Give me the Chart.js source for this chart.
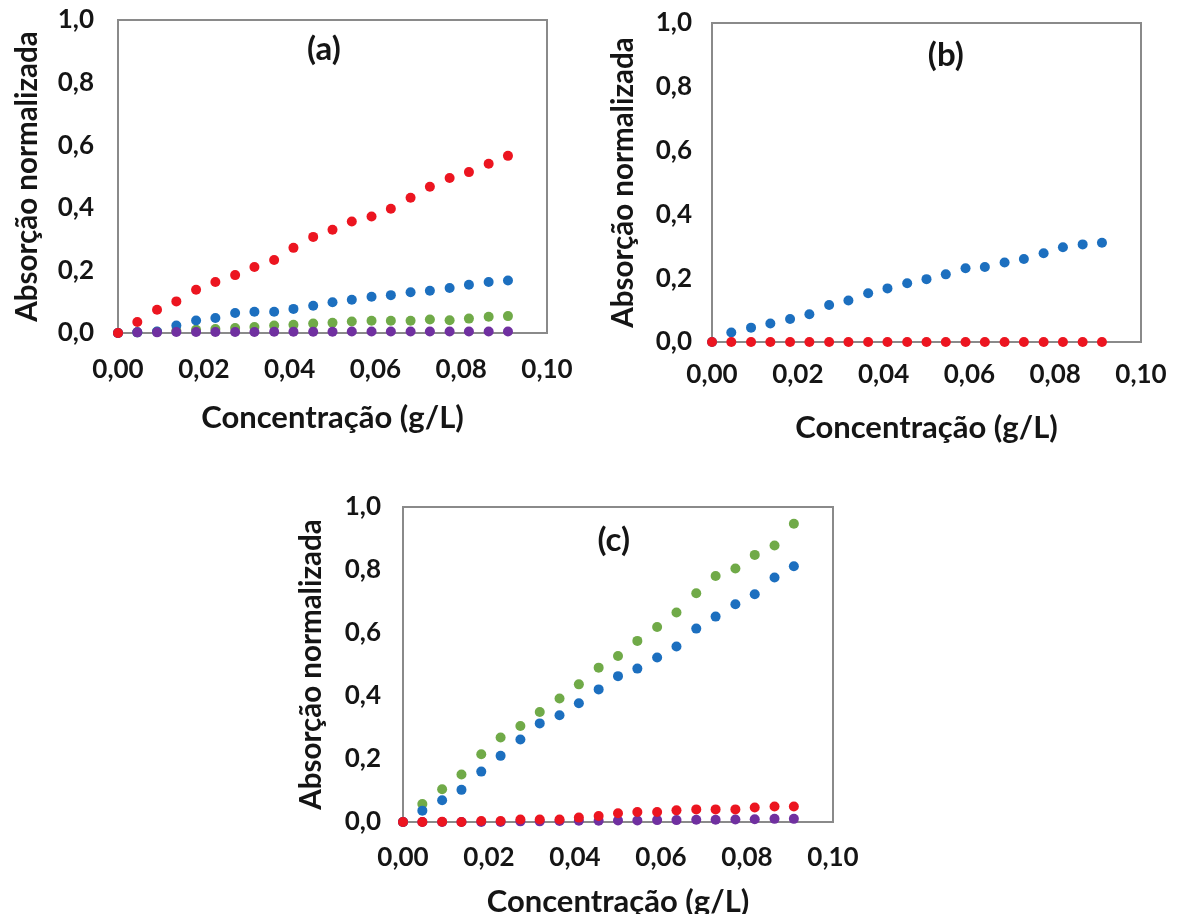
<!DOCTYPE html>
<html lang="pt">
<head>
<meta charset="utf-8">
<title>Absorção normalizada x concentração</title>
<script src="https://cdn.jsdelivr.net/npm/chart.js@4.4.1/dist/chart.umd.min.js"></script>
<style>
  html, body { margin: 0; padding: 0; background: #fff; overflow: hidden; }
  body { width: 1195px; height: 914px; position: relative; }
  canvas { position: absolute; }
  #graficoA { left: 0; top: 0; }
  #graficoB { left: 590px; top: 0; }
  #graficoC { left: 280px; top: 470px; }
</style>
</head>
<body>
<canvas id="graficoA" width="590" height="450"></canvas>
<canvas id="graficoB" width="605" height="450"></canvas>
<canvas id="graficoC" width="600" height="460"></canvas>
<script>
// concentrações (g/L), as mesmas nos três painéis
const concentracao = [0, 0.0045, 0.0091, 0.0136, 0.0182, 0.0227, 0.0273, 0.0318, 0.0364, 0.0409,
  0.0455, 0.05, 0.0545, 0.0591, 0.0636, 0.0682, 0.0727, 0.0773, 0.0818, 0.0864, 0.0909];
const ticksX = [0, 0.02, 0.04, 0.06, 0.08, 0.1];
const ticksY = [0, 0.2, 0.4, 0.6, 0.8, 1.0];

// painel (a)
const aVermelho = [0, 0.035, 0.074, 0.101, 0.138, 0.163, 0.185, 0.211, 0.233, 0.272, 0.307,
  0.330, 0.356, 0.372, 0.397, 0.432, 0.467, 0.495, 0.514, 0.541, 0.566];
const aAzul = [0, 0.002, 0.005, 0.024, 0.040, 0.048, 0.064, 0.068, 0.068, 0.077, 0.087,
  0.098, 0.106, 0.116, 0.121, 0.130, 0.135, 0.144, 0.154, 0.163, 0.168];
const aVerde = [0, 0.002, 0.004, 0.007, 0.010, 0.013, 0.016, 0.019, 0.024, 0.026, 0.030,
  0.033, 0.037, 0.039, 0.039, 0.039, 0.043, 0.041, 0.046, 0.052, 0.054];
const aRoxo = [0, 0.002, 0.002, 0.003, 0.003, 0.003, 0.003, 0.003, 0.004, 0.004, 0.004,
  0.004, 0.005, 0.005, 0.005, 0.005, 0.005, 0.005, 0.005, 0.005, 0.005];

// painel (b)
const bVermelho = [0, 0, 0, 0, 0, 0, 0, 0, 0, 0, 0, 0, 0, 0, 0, 0, 0, 0, 0, 0, 0];
const bAzul = [0, 0.030, 0.045, 0.058, 0.072, 0.087, 0.116, 0.130, 0.153, 0.168, 0.184,
  0.197, 0.212, 0.231, 0.235, 0.249, 0.260, 0.278, 0.297, 0.306, 0.311];

// painel (c)
const cVermelho = [0, 0, 0.001, 0, 0.003, 0.003, 0.008, 0.008, 0.008, 0.014, 0.019,
  0.028, 0.032, 0.032, 0.037, 0.040, 0.040, 0.040, 0.046, 0.049, 0.049];
const cAzul = [0, 0.036, 0.069, 0.102, 0.160, 0.210, 0.262, 0.313, 0.339, 0.377, 0.421,
  0.463, 0.487, 0.522, 0.557, 0.614, 0.652, 0.691, 0.723, 0.776, 0.812];
const cVerde = [0, 0.057, 0.104, 0.151, 0.215, 0.268, 0.305, 0.349, 0.392, 0.437, 0.490,
  0.527, 0.575, 0.619, 0.665, 0.726, 0.781, 0.805, 0.848, 0.878, 0.947];
const cRoxo = [0, 0, 0, 0, 0, 0, 0.002, 0.002, 0.003, 0.004, 0.004,
  0.005, 0.005, 0.006, 0.006, 0.007, 0.007, 0.008, 0.009, 0.010, 0.010];

const VERMELHO = '#ec1520';
const AZUL = '#1c6fbf';
const VERDE = '#70aa48';
const ROXO = '#7030a0';
const TEXTO = '#151515';
const FONTE = 'Lato';

// moldura cinza da área do gráfico + letra do painel
const moldura = {
    id: 'moldura',
    beforeDatasetsDraw(chart) {
        const { ctx, chartArea: a } = chart;
        ctx.save();
        ctx.strokeStyle = '#8a8a8a';
        ctx.lineWidth = 2;
        ctx.strokeRect(a.left, a.top, a.width, a.height);
        ctx.restore();
    },
    afterDatasetsDraw(chart, args, opts) {
        const { ctx, scales } = chart;
        ctx.save();
        ctx.font = `bold 33px ${FONTE}`;
        ctx.fillStyle = TEXTO;
        ctx.textAlign = 'center';
        ctx.textBaseline = 'middle';
        ctx.fillText(opts.texto, scales.x.getPixelForValue(opts.x), scales.y.getPixelForValue(opts.y));
        ctx.restore();
    }
};

function criarPainel(id, series, ajuste) {
    const datasets = series.map(s => ({
        data: s.valores.map((v, i) => ({ x: concentracao[i], y: v })),
        pointBackgroundColor: s.cor,
        pointBorderColor: s.cor,
        pointBorderWidth: 0,
        pointRadius: 5,
        clip: false
    }));

    new Chart(document.getElementById(id), {
        type: 'scatter',
        data: { datasets },
        plugins: [moldura],
        options: {
            responsive: false,
            animation: false,
            events: [],
            layout: { padding: { top: ajuste.topo, right: ajuste.direita, left: 0, bottom: 0 } },
            plugins: {
                legend: { display: false },
                tooltip: { enabled: false },
                moldura: ajuste.letra
            },
            scales: {
                x: {
                    type: 'linear',
                    min: 0,
                    max: 0.1,
                    afterBuildTicks: s => { s.ticks = ticksX.map(v => ({ value: v })); },
                    // tamanho fixo do eixo, sem folga extra para os rótulos
                    afterFit: s => { s.height = ajuste.alturaX; s.paddingLeft = 0; s.paddingRight = 0; },
                    grid: { display: false, drawTicks: false },
                    border: { display: false },
                    ticks: {
                        padding: ajuste.padX,
                        color: TEXTO,
                        font: { family: FONTE, size: 26, weight: 'bold' },
                        callback: v => v.toFixed(2).replace('.', ',')
                    },
                    title: {
                        display: true,
                        text: 'Concentração (g/L)',
                        color: TEXTO,
                        font: { family: FONTE, size: 31, weight: 'bold' },
                        padding: { top: 0, bottom: ajuste.tituloX }
                    }
                },
                y: {
                    min: 0,
                    max: 1,
                    afterBuildTicks: s => { s.ticks = ticksY.map(v => ({ value: v })); },
                    afterFit: s => { s.width = ajuste.larguraY; s.paddingTop = 0; s.paddingBottom = 0; },
                    grid: { display: false, drawTicks: false },
                    border: { display: false },
                    ticks: {
                        padding: ajuste.padY,
                        color: TEXTO,
                        font: { family: FONTE, size: 26, weight: 'bold' },
                        callback: v => v.toFixed(1).replace('.', ',')
                    },
                    title: {
                        display: true,
                        text: 'Absorção normalizada',
                        color: TEXTO,
                        font: { family: FONTE, size: 29.5, weight: 'bold' },
                        padding: { top: ajuste.tituloY, bottom: 0 }
                    }
                }
            }
        }
    });
}

// a ordem importa: a primeira série fica por cima
criarPainel('graficoA', [
    { valores: aVermelho, cor: VERMELHO },
    { valores: aRoxo, cor: ROXO },
    { valores: aAzul, cor: AZUL },
    { valores: aVerde, cor: VERDE }
], { topo: 20, direita: 43, alturaX: 117, larguraY: 118, padX: 21, padY: 24, tituloX: 13, tituloY: 10,
     letra: { texto: '(a)', x: 0.048, y: 0.905 } });

criarPainel('graficoB', [
    { valores: bVermelho, cor: VERMELHO },
    { valores: bAzul, cor: AZUL }
], { topo: 23, direita: 54, alturaX: 108, larguraY: 122, padX: 17, padY: 20, tituloX: 3, tituloY: 16,
     letra: { texto: '(b)', x: 0.0545, y: 0.90 } });

criarPainel('graficoC', [
    { valores: cVermelho, cor: VERMELHO },
    { valores: cRoxo, cor: ROXO },
    { valores: cAzul, cor: AZUL },
    { valores: cVerde, cor: VERDE }
], { topo: 37, direita: 47, alturaX: 108, larguraY: 123, padX: 20, padY: 22, tituloX: 9, tituloY: 14,
     letra: { texto: '(c)', x: 0.049, y: 0.895 } });
</script>
</body>
</html>
